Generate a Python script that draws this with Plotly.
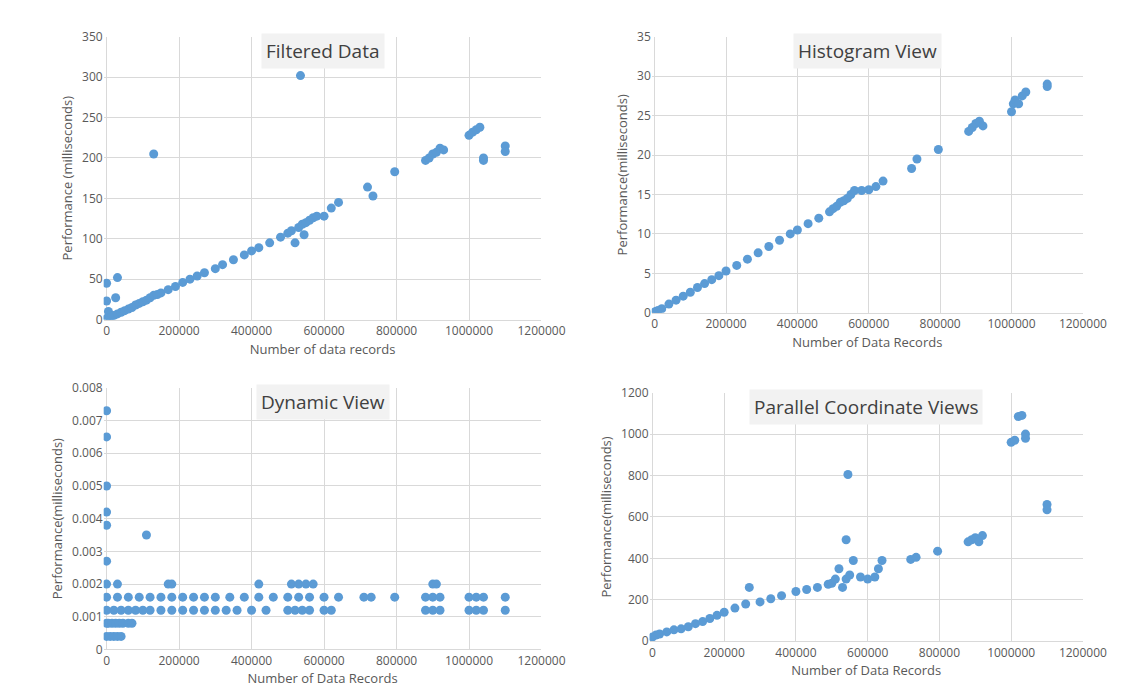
import plotly.graph_objects as go

# Filtered Data
filt_x = [0, 0, 0, 2000, 5000, 8000, 10000, 15000, 20000, 25000, 30000, 40000, 50000, 60000, 70000,
          80000, 90000, 100000, 110000, 120000, 130000, 140000, 150000, 170000, 190000, 210000,
          230000, 250000, 270000, 300000, 320000, 350000, 380000, 400000, 420000, 450000, 480000,
          500000, 510000, 520000, 530000, 535000, 540000, 545000, 550000, 560000, 570000, 580000,
          600000, 620000, 640000, 720000, 735000, 795000, 880000, 890000, 900000, 910000, 920000,
          930000, 1000000, 1010000, 1020000, 1030000, 1040000, 1040000, 1100000, 1100000, 30000, 130000]
filt_y = [1, 23, 45, 2, 10, 3, 3, 4, 5, 27, 7, 9, 11, 13, 15, 18, 20, 22, 24, 27, 30, 31, 33, 37,
          41, 46, 50, 54, 58, 63, 68, 74, 80, 85, 89, 95, 102, 107, 110, 95, 114, 302, 118, 105,
          120, 123, 126, 128, 128, 138, 145, 164, 153, 183, 197, 200, 205, 207, 212, 210, 228,
          232, 235, 238, 197, 200, 215, 208, 52, 205]

# Histogram View
hist_x = [0, 5000, 10000, 20000, 40000, 60000, 80000, 100000, 120000, 140000, 160000, 180000,
          200000, 230000, 260000, 290000, 320000, 350000, 380000, 400000, 430000, 460000, 490000,
          500000, 510000, 520000, 530000, 540000, 550000, 560000, 580000, 600000, 620000, 640000,
          720000, 735000, 795000, 880000, 890000, 900000, 910000, 920000, 1000000, 1005000,
          1010000, 1020000, 1030000, 1040000, 1100000, 1100000]
hist_y = [0.1, 0.2, 0.3, 0.5, 1.1, 1.6, 2.1, 2.6, 3.2, 3.7, 4.2, 4.7, 5.3, 6.0, 6.8, 7.6, 8.4,
          9.2, 10.0, 10.5, 11.3, 12.0, 12.8, 13.2, 13.5, 14.0, 14.2, 14.5, 15.0, 15.5, 15.5,
          15.6, 16.0, 16.7, 18.3, 19.5, 20.7, 23.0, 23.5, 24.0, 24.3, 23.7, 25.5, 26.5, 27.0,
          26.5, 27.5, 28.0, 29.0, 28.7]

# Dynamic View
dyn_x = [0, 0, 0, 0, 0, 0, 110000,
         0, 10000, 20000, 30000, 40000,
         0, 5000, 15000, 25000, 35000, 45000, 60000, 70000,
         0, 20000, 40000, 60000, 80000, 100000, 120000, 150000, 180000, 210000, 240000, 270000,
         300000, 330000, 360000, 400000, 440000, 500000, 520000, 540000, 560000, 600000, 620000,
         880000, 900000, 920000, 1000000, 1020000, 1040000, 1100000,
         0, 30000, 60000, 90000, 120000, 150000, 180000, 210000, 240000, 270000, 300000, 340000,
         380000, 420000, 460000, 500000, 530000, 560000, 600000, 640000, 710000, 730000, 795000,
         880000, 900000, 920000, 1000000, 1020000, 1040000, 1100000,
         0, 30000, 170000, 180000, 420000, 510000, 530000, 550000, 570000, 900000, 910000]
dyn_y = [0.0073, 0.0065, 0.005, 0.0042, 0.0038, 0.0027, 0.0035,
         0.0004, 0.0004, 0.0004, 0.0004, 0.0004,
         0.0008, 0.0008, 0.0008, 0.0008, 0.0008, 0.0008, 0.0008, 0.0008] + [0.0012] * 30 + \
        [0.0016] * 30 + [0.002] * 11

# Parallel Coordinate Views
par_x = [0, 10000, 20000, 40000, 60000, 80000, 100000, 120000, 140000, 160000, 180000, 200000,
         230000, 260000, 270000, 300000, 330000, 360000, 400000, 430000, 460000, 490000, 500000,
         510000, 520000, 530000, 540000, 540000, 545000, 550000, 560000, 580000, 600000, 620000,
         630000, 640000, 720000, 735000, 795000, 880000, 890000, 900000, 910000, 920000, 1000000,
         1010000, 1020000, 1030000, 1040000, 1040000, 1100000, 1100000]
par_y = [20, 30, 35, 45, 55, 60, 70, 85, 95, 110, 125, 140, 160, 180, 260, 190, 205, 220, 240,
         250, 260, 275, 280, 300, 350, 260, 490, 300, 805, 320, 390, 310, 300, 310, 350, 390,
         395, 405, 435, 480, 490, 500, 480, 510, 960, 970, 1085, 1090, 1000, 980, 660, 635]

panels = [
    (filt_x, filt_y, "Filtered Data", "Number of data records", "Performance (milliseconds)",
     [0.085, 0.478], [0.557, 0.971], [0, 350], 50),
    (hist_x, hist_y, "Histogram View", "Number of Data Records", "Performance(milliseconds)",
     [0.577, 0.964], [0.567, 0.971], [0, 35], 5),
    (dyn_x, dyn_y, "Dynamic View", "Number of Data Records", "Performance(milliseconds)",
     [0.085, 0.478], [0.074, 0.457], [0, 0.008], 0.001),
    (par_x, par_y, "Parallel Coordinate Views", "Number of Data Records", "Performance(milliseconds)",
     [0.575, 0.964], [0.086, 0.45], [0, 1200], 200),
]

fig = go.Figure()
layout = dict(width=1139, height=700, margin=dict(l=0, r=0, t=0, b=0),
              paper_bgcolor="white", plot_bgcolor="white", showlegend=False,
              font=dict(family="Open Sans", color="#595959"))
annotations = []
for i, (x, y, title, xt, yt, xd, yd, yr, dt) in enumerate(panels):
    n = "" if i == 0 else str(i + 1)
    fig.add_trace(go.Scatter(x=x, y=y, mode="markers", xaxis="x" + n, yaxis="y" + n,
                             marker=dict(color="#5b9bd5", size=9)))
    layout["xaxis" + n] = dict(domain=xd, anchor="y" + n, range=[-8000, 1200000], dtick=200000,
                               tick0=0, tickformat="d", showgrid=True, gridcolor="#d9d9d9",
                               zeroline=False, showline=True, linecolor="#d9d9d9",
                               tickfont=dict(size=12),
                               title=dict(text=xt, font=dict(size=13), standoff=6))
    layout["yaxis" + n] = dict(domain=yd, anchor="x" + n, range=yr, dtick=dt, showgrid=True,
                               gridcolor="#d9d9d9", zeroline=False, tickfont=dict(size=12),
                               title=dict(text=yt, font=dict(size=13), standoff=6))
    annotations.append(dict(text=title, xref="paper", yref="paper", xanchor="center",
                            x=(xd[0] + xd[1]) / 2, y=yd[1] + 0.005, yanchor="top",
                            showarrow=False, bgcolor="#f2f2f2", borderpad=4,
                            font=dict(size=19, color="#404040")))
layout["annotations"] = annotations
fig.update_layout(**layout)
fig.write_html("out.html")
